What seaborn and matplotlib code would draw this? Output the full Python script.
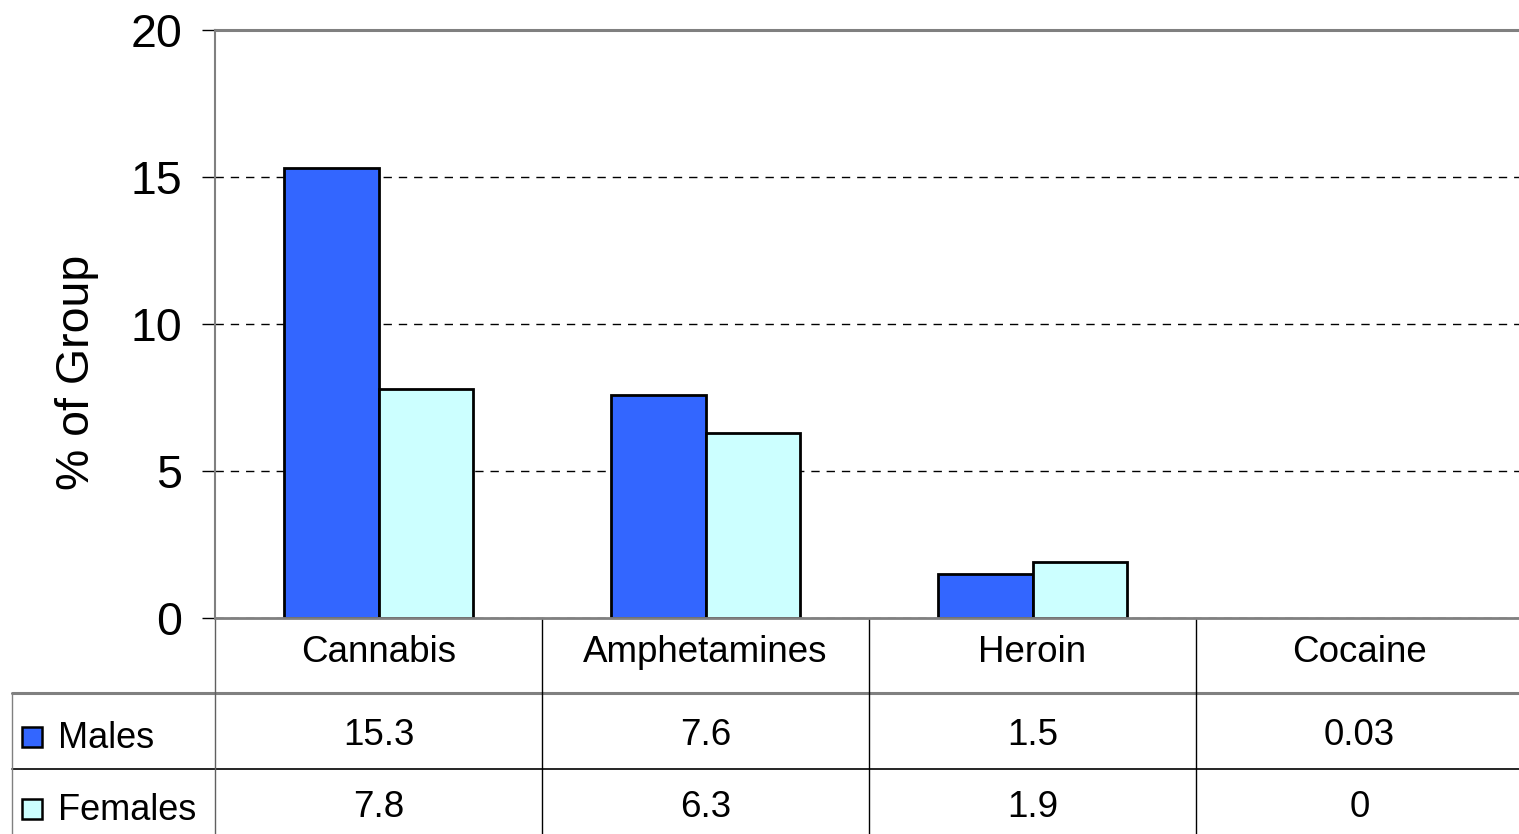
import pandas as pd
import seaborn as sns
import matplotlib.pyplot as plt

sns.set_style("white")
plt.rcParams['font.family'] = ['Liberation Sans', 'DejaVu Sans']
plt.rcParams['text.color'] = 'black'
plt.rcParams['xtick.color'] = 'black'
plt.rcParams['ytick.color'] = 'black'
plt.rcParams['axes.labelcolor'] = 'black'

categories = ["Cannabis", "Amphetamines", "Heroin", "Cocaine"]
males = [15.3, 7.6, 1.5, 0.03]
females = [7.8, 6.3, 1.9, 0]
groups = ["Males", "Females"]
colors = ["#3366FF", "#CCFFFF"]

df = pd.DataFrame({
    "drug": categories * 2,
    "group": [groups[0]] * len(males) + [groups[1]] * len(females),
    "pct": males + females,
})

W, H = 1519, 834
fig = plt.figure(figsize=(W / 100, H / 100), dpi=100)
# plot area in pixels: x 215..1523, y 30..618 (right edge runs off the picture)
ax = fig.add_axes([215 / W, (H - 618) / H, 1308 / W, 588 / H])

sns.barplot(data=df, x="drug", y="pct", hue="group", palette=colors,
            width=0.58, edgecolor="black", linewidth=2, saturation=1,
            errorbar=None, legend=False, ax=ax)

# bars that are ~0 are not drawn in the original
for p in ax.patches:
    if abs(p.get_height()) < 0.1:
        p.set_visible(False)

ax.set_xlim(-0.5, 3.5)
ax.set_ylim(0, 20)
ax.set_yticks([0, 5, 10, 15, 20])
ax.set_xlabel("")
ax.set_ylabel("% of Group", fontsize=33.5)
ax.yaxis.set_label_coords((99 - 215) / 1308, (618 - 372) / 588)

ax.set_axisbelow(True)
ax.yaxis.grid(True, color="black", linestyle=(0, (6, 5)), linewidth=1)
ax.xaxis.grid(False)

for side in ["top", "bottom", "left"]:
    ax.spines[side].set_color("#808080")
ax.spines["top"].set_linewidth(2.2)
ax.spines["bottom"].set_linewidth(2)
ax.spines["left"].set_linewidth(1.5)
ax.spines["right"].set_visible(False)

ax.tick_params(axis="y", left=True, length=9.4, width=1, color="black",
               pad=14, labelsize=33.5, direction="out")
ax.tick_params(axis="x", bottom=False, length=0, pad=12, labelsize=26.5)


# data table under the chart
def ay(py):
    return (618 - py) / 588


def dx(px):
    return -0.5 + (px - 215) / 327


tr = ax.get_xaxis_transform()
kw = dict(transform=tr, clip_on=False)
ax.plot([dx(12), 3.6], [ay(693)] * 2, color="#808080", lw=2.2, **kw)
ax.plot([dx(12), 3.6], [ay(769)] * 2, color="black", lw=1.2, **kw)
ax.plot([-0.5, -0.5], [0, ay(840)], color="#606060", lw=1, **kw)
for xb in [0.5, 1.5, 2.5]:
    ax.plot([xb, xb], [0, ay(840)], color="black", lw=1, **kw)
ax.plot([dx(12)] * 2, [ay(693), ay(840)], color="#808080", lw=1, **kw)

rows = [males, females]
value_base = [745, 817]
label_base = [748, 820]
marker_y = [737, 809]
for r, vals in enumerate(rows):
    for i, v in enumerate(vals):
        ax.text(i, ay(value_base[r]), f"{v:g}", ha="center", va="baseline",
                fontsize=26.5, **kw)
    ax.plot([dx(32)], [ay(marker_y[r])], marker="s", markersize=14.5,
            markerfacecolor=colors[r], markeredgecolor="black",
            markeredgewidth=1.8, **kw)
    ax.text(dx(58), ay(label_base[r]), groups[r], ha="left", va="baseline",
            fontsize=26, **kw)

fig.savefig("out.png", dpi=100)
